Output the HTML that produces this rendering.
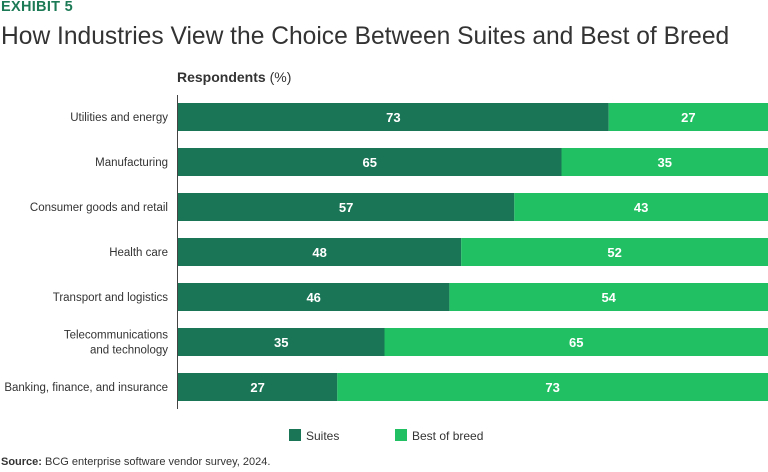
<!DOCTYPE html>
<html><head><meta charset="utf-8"><style>
body{margin:0;width:768px;height:472px;background:#fff;font-family:"Liberation Sans",sans-serif;overflow:hidden;position:relative}
.t{position:absolute;white-space:nowrap}
</style></head><body>
<div class="t" style="left:1px;top:-1px;font-size:14.5px;font-weight:bold;color:#1d7a56;letter-spacing:0.3px">EXHIBIT 5</div>
<div class="t" style="left:1px;top:23px;font-size:24.6px;color:#333">How Industries View the Choice Between Suites and Best of Breed</div>
<div class="t" style="left:177px;top:69px;font-size:14px;font-weight:bold;color:#333">Respondents <span style="font-weight:normal">(%)</span></div>
<svg id="chart" width="768" height="472" style="position:absolute;left:0;top:0"></svg>
<div class="t" style="left:1px;top:456px;font-size:11px;color:#333"><b>Source:</b> BCG enterprise software vendor survey, 2024.</div>
<script>
const categories=["Utilities and energy","Manufacturing","Consumer goods and retail","Health care","Transport and logistics","Telecommunications|and technology","Banking, finance, and insurance"];
const suites=[73,65,57,48,46,35,27];
const bestOfBreed=[27,35,43,52,54,65,73];
const svg=document.getElementById('chart');
const NS='http://www.w3.org/2000/svg';
const x0=178,pw=590,y0=117,step=45,bh=28;
const xs=v=>v/100*pw;
function mk(t,a){const e=document.createElementNS(NS,t);for(const k in a)e.setAttribute(k,a[k]);svg.appendChild(e);return e;}
categories.forEach((c,i)=>{
 const cy=y0+i*step;
 const w1=xs(suites[i]),w2=xs(bestOfBreed[i]);
 const r1=mk('rect',{x:x0,y:cy-bh/2,width:w1,height:bh,fill:'#1a7556'});
 
 
 const r2=mk('rect',{x:x0+w1,y:cy-bh/2,width:w2,height:bh,fill:'#21c063'});
 
 
 const t1=mk('text',{x:x0+w1/2,y:cy+5,'text-anchor':'middle','font-size':13,'font-weight':'bold',fill:'#fff'});t1.textContent=suites[i];
 
 
 const t2=mk('text',{x:x0+w1+w2/2,y:cy+5,'text-anchor':'middle','font-size':13,'font-weight':'bold',fill:'#fff'});t2.textContent=bestOfBreed[i];
 
 
 const parts=c.split('|');
 parts.forEach((p,j)=>{
  const ty=cy+4+(j-(parts.length-1)/2)*15;
  const tl=mk('text',{x:168,y:ty,'text-anchor':'end','font-size':11.5,fill:'#333'});tl.textContent=p;
  
  
 });
});
const ax=mk('line',{x1:177.5,x2:177.5,y1:95,y2:409,stroke:'#444','stroke-width':1});


const legend=[["Suites","#1a7556",289],["Best of breed","#21c063",395]];
legend.forEach(l=>{
 const r=mk('rect',{x:l[2],y:429,width:12,height:12,fill:l[1]});
 
 
 const t=mk('text',{x:l[2]+17,y:440,'font-size':12,fill:'#333'});t.textContent=l[0];
 
 
});
</script>
</body></html>
